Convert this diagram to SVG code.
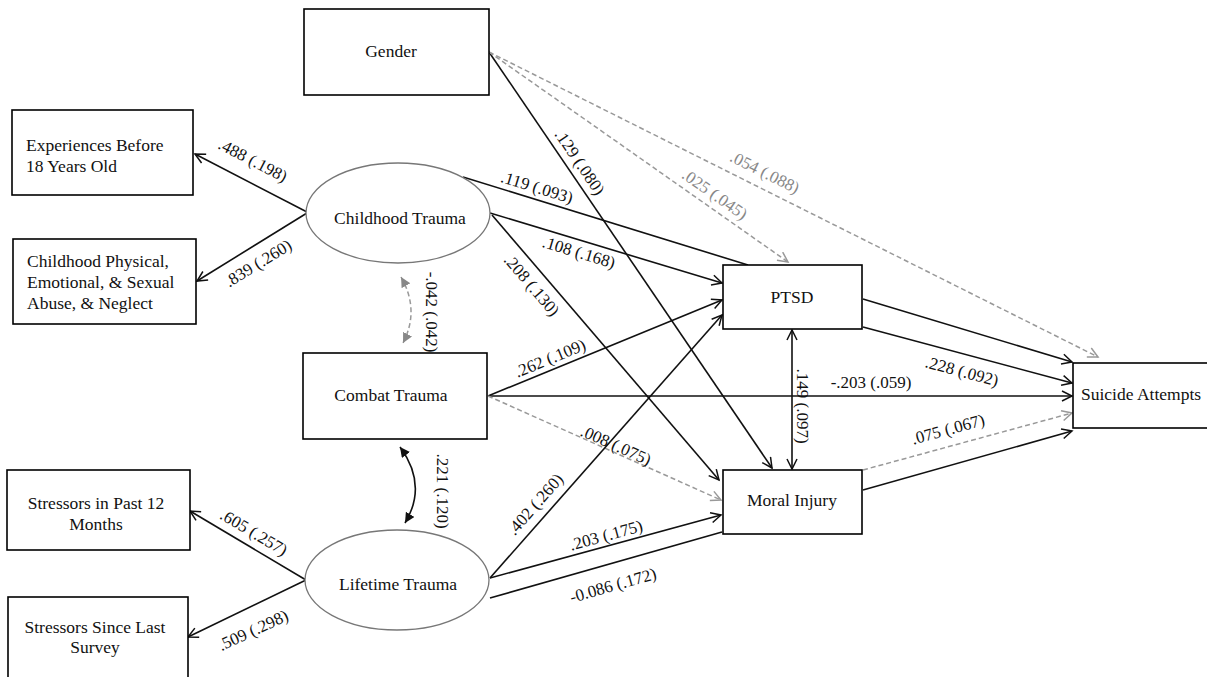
<svg xmlns="http://www.w3.org/2000/svg" width="1207" height="677" viewBox="0 0 1207 677">
<style>
.box{fill:#fff;stroke:#000;stroke-width:1.6}
.ell{fill:#fff;stroke:#777;stroke-width:1.3}
.t{font-family:"Liberation Serif","Times New Roman",serif;font-size:17.5px;fill:#111}
.lb{font-family:"Liberation Serif","Times New Roman",serif;font-size:17px;fill:#111;text-anchor:middle}
.lbg{font-family:"Liberation Serif","Times New Roman",serif;font-size:17px;fill:#888;text-anchor:middle}
.c{text-anchor:middle}
.ln{fill:none;stroke:#111;stroke-width:1.6}
.dl{fill:none;stroke:#999;stroke-width:1.5;stroke-dasharray:5,3}
</style>
<defs>
<marker id="a" markerUnits="userSpaceOnUse" markerWidth="14" markerHeight="14" refX="11" refY="6" orient="auto-start-reverse">
<path d="M1,1 L11,6 L1,11" fill="none" stroke="#111" stroke-width="1.5"/>
</marker>
<marker id="ag" markerUnits="userSpaceOnUse" markerWidth="14" markerHeight="14" refX="11" refY="6" orient="auto-start-reverse">
<path d="M1,1 L11,6 L1,11" fill="none" stroke="#999" stroke-width="1.5"/>
</marker>
<marker id="f" markerUnits="userSpaceOnUse" markerWidth="14" markerHeight="14" refX="10" refY="5" orient="auto-start-reverse">
<path d="M0,0 L10,5 L0,10 z" fill="#111"/>
</marker>
<marker id="fg" markerUnits="userSpaceOnUse" markerWidth="14" markerHeight="14" refX="10" refY="5" orient="auto-start-reverse">
<path d="M0,0 L10,5 L0,10 z" fill="#888"/>
</marker>
</defs>
<rect width="1207" height="677" fill="#fff"/>

<g id="connectors">
<line class="ln" x1="307" y1="212" x2="195" y2="154" marker-end="url(#a)"/>
<line class="ln" x1="307" y1="213" x2="197" y2="281" marker-end="url(#a)"/>
<line class="ln" x1="306" y1="580" x2="190" y2="511" marker-end="url(#a)"/>
<line class="ln" x1="306" y1="580" x2="188" y2="637" marker-end="url(#a)"/>
<path class="dl" d="M401,277 Q420,310 403,343" stroke="#999" marker-start="url(#fg)" marker-end="url(#fg)"/>
<path class="ln" d="M400,447 Q428,485 405,523" marker-start="url(#f)" marker-end="url(#f)"/>
<line class="ln" x1="489" y1="52" x2="772" y2="468" marker-end="url(#a)"/>
<line class="dl" x1="489" y1="52" x2="788" y2="262" marker-end="url(#ag)"/>
<line class="dl" x1="489" y1="52" x2="1098" y2="357" marker-end="url(#ag)"/>
<line class="ln" x1="463" y1="177" x2="748" y2="265"/>
<line class="ln" x1="490" y1="213" x2="722" y2="283" marker-end="url(#a)"/>
<line class="ln" x1="492" y1="215" x2="719" y2="480" marker-end="url(#a)"/>
<line class="ln" x1="488" y1="396" x2="722" y2="300" marker-end="url(#a)"/>
<line class="ln" x1="488" y1="396" x2="1072" y2="396" marker-end="url(#a)"/>
<line class="dl" x1="488" y1="396" x2="721" y2="500" marker-end="url(#ag)"/>
<line class="ln" x1="490" y1="578" x2="722" y2="315" marker-end="url(#a)"/>
<line class="ln" x1="490" y1="578" x2="721" y2="515" marker-end="url(#a)"/>
<line class="ln" x1="490" y1="598" x2="722" y2="532"/>
<line class="ln" x1="863" y1="299" x2="1072" y2="362" marker-end="url(#a)"/>
<line class="ln" x1="863" y1="327" x2="1072" y2="383" marker-end="url(#a)"/>
<line class="dl" x1="863" y1="470" x2="1072" y2="413" marker-end="url(#ag)"/>
<line class="ln" x1="863" y1="490" x2="1072" y2="431" marker-end="url(#a)"/>
<line class="ln" x1="792" y1="330" x2="792" y2="469" marker-start="url(#a)" marker-end="url(#a)"/>

<text class="lb" transform="translate(253,160) rotate(27.4)" dy="0.35em">.488 (.198)</text>
<text class="lb" transform="translate(258,263) rotate(-31.7)" dy="0.35em">.839 (.260)</text>
<text class="lb" transform="translate(254,532) rotate(30.7)" dy="0.35em">.605 (.257)</text>
<text class="lb" transform="translate(253,630) rotate(-24.8)" dy="0.35em">.509 (.298)</text>
<text class="lb" transform="translate(432,312) rotate(90)" dy="0.35em">-.042 (.042)</text>
<text class="lb" transform="translate(443,491) rotate(90)" dy="0.35em">.221 (.120)</text>
<text class="lb" transform="translate(580,162) rotate(55.8)" dy="0.35em">.129 (.080)</text>
<text class="lbg" transform="translate(715,194) rotate(35)" dy="0.35em">.025 (.045)</text>
<text class="lbg" transform="translate(765,172) rotate(26.6)" dy="0.35em">.054 (.088)</text>
<text class="lb" transform="translate(537,187) rotate(17.2)" dy="0.35em">.119 (.093)</text>
<text class="lb" transform="translate(579,252) rotate(16.8)" dy="0.35em">.108 (.168)</text>
<text class="lb" transform="translate(532,285) rotate(49.4)" dy="0.35em">.208 (.130)</text>
<text class="lb" transform="translate(550,358) rotate(-22.5)" dy="0.35em">.262 (.109)</text>
<text class="lb" x="871" y="388">-.203 (.059)</text>
<text class="lb" transform="translate(616,445) rotate(24)" dy="0.35em">.008 (.075)</text>
<text class="lb" transform="translate(535,504) rotate(-48.8)" dy="0.35em">.402 (.260)</text>
<text class="lb" transform="translate(606,535) rotate(-15.3)" dy="0.35em">.203 (.175)</text>
<text class="lb" transform="translate(613,585) rotate(-15.9)" dy="0.35em">-0.086 (.172)</text>
<text class="lb" transform="translate(962,371) rotate(15)" dy="0.35em">.228 (.092)</text>
<text class="lb" transform="translate(948,429) rotate(-15.3)" dy="0.35em">.075 (.067)</text>
<text class="lb" transform="translate(803,406) rotate(90)" dy="0.35em">.149 (.097)</text>
</g>

<g id="gender"><rect class="box" x="304" y="9" width="185" height="86"/><text class="t c" x="391" y="57">Gender</text></g>
<g id="experiences"><rect class="box" x="12" y="110" width="181" height="85"/><text class="t" x="26" y="151">Experiences Before</text><text class="t" x="26" y="172">18 Years Old</text></g>
<g id="childhood-abuse"><rect class="box" x="13" y="239" width="183" height="85"/><text class="t" x="27" y="267">Childhood Physical,</text><text class="t" x="27" y="288">Emotional, &amp; Sexual</text><text class="t" x="27" y="309">Abuse, &amp; Neglect</text></g>
<g id="childhood-trauma"><ellipse class="ell" cx="398" cy="213" rx="92" ry="50"/><text class="t c" x="400" y="224">Childhood Trauma</text></g>
<g id="combat-trauma"><rect class="box" x="303" y="353" width="184" height="86"/><text class="t c" x="391" y="401">Combat Trauma</text></g>
<g id="stressors-12"><rect class="box" x="7" y="470" width="183" height="80"/><text class="t c" x="96" y="509">Stressors in Past 12</text><text class="t c" x="96" y="530">Months</text></g>
<g id="stressors-since"><rect class="box" x="8" y="597" width="180" height="95"/><text class="t c" x="95" y="633">Stressors Since Last</text><text class="t c" x="95" y="653">Survey</text></g>
<g id="lifetime-trauma"><ellipse class="ell" cx="397" cy="580" rx="92" ry="50"/><text class="t c" x="398" y="590">Lifetime Trauma</text></g>
<g id="ptsd"><rect class="box" x="723" y="265" width="139" height="64"/><text class="t c" x="792" y="303">PTSD</text></g>
<g id="moral-injury"><rect class="box" x="723" y="470" width="139" height="64"/><text class="t c" x="792" y="506">Moral Injury</text></g>
<g id="suicide"><rect class="box" x="1073" y="363" width="145" height="65"/><text class="t" x="1081" y="400">Suicide Attempts</text></g>
</svg>
